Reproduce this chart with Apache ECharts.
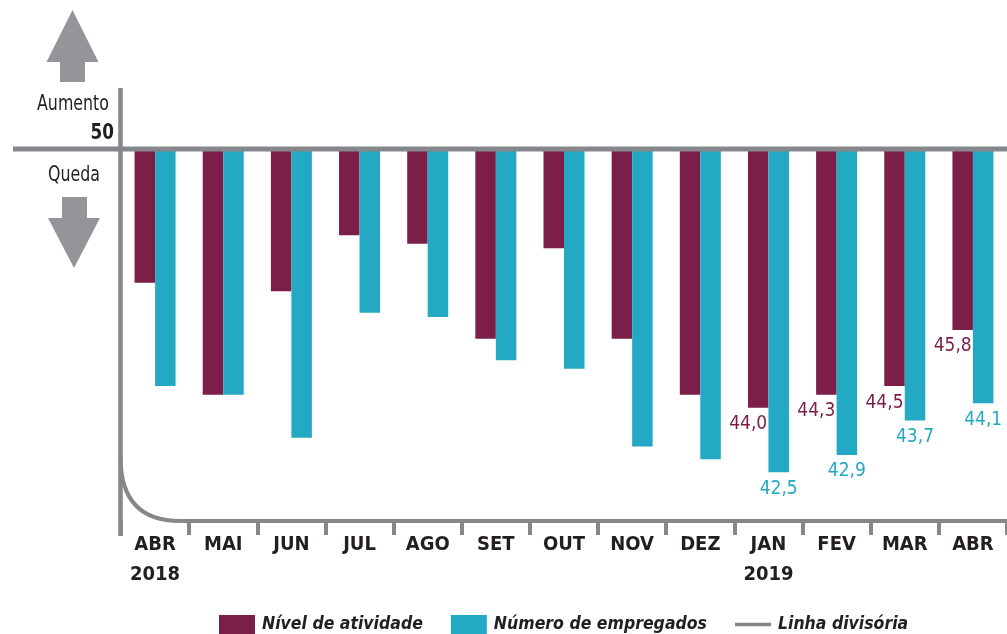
<!DOCTYPE html>
<html><head><meta charset="utf-8">
<script src="https://cdn.jsdelivr.net/npm/echarts@6/dist/echarts.min.js"></script>
<style>html,body{margin:0;padding:0;background:#fff}#c{width:1007px;height:634px}</style>
</head><body><div id="c"></div>
<script>
const categories = ['ABR','MAI','JUN','JUL','AGO','SET','OUT','NOV','DEZ','JAN','FEV','MAR','ABR'];
const years = ['2018','','','','','','','','','2019','','',''];
const nivel = [46.9,44.3,46.7,48.0,47.8,45.6,47.7,45.6,44.3,44.0,44.3,44.5,45.8];
const empregados = [44.5,44.3,43.3,46.2,46.1,45.1,44.9,43.1,42.8,42.5,42.9,43.7,44.1];
const baseline = 50;
const labeledFrom = 9;

const FONT = "'DejaVu Sans Condensed','Liberation Sans Narrow',sans-serif";
const GREY = '#86878a';
const ARROW = '#939598';
const C1 = '#7b1f48';
const C2 = '#23a9c4';
const INK = '#231f20';

const fmt = p => (p.value + baseline).toFixed(1).replace('.', ',');
const mk = arr => arr.map((v, i) => ({ value: +(v - baseline).toFixed(2), label: { show: i >= labeledFrom } }));

const chart = echarts.init(document.getElementById('c'), null, { renderer: 'canvas' });
chart.setOption({
  animation: false,
  backgroundColor: '#fff',
  grid: { left: 121, top: 149, width: 888, height: 372, containLabel: false },
  legend: {
    left: 219, top: 615, padding: 0, itemWidth: 36, itemHeight: 19, itemGap: 28,
    icon: 'rect',
    data: [
      { name: 'Nível de atividade' },
      { name: 'Número de empregados' },
      { name: 'Linha divisória', icon: 'path://M0,0H40V4H0Z' }
    ],
    textStyle: { fontSize: 17.5, fontWeight: 'bold', fontStyle: 'italic', color: INK, fontFamily: FONT, padding: [0,0,0,2] }
  },
  xAxis: {
    type: 'category', data: categories, position: 'bottom',
    axisLine: { show: false, onZero: false },
    axisTick: { show: true, interval: 0, length: 14, lineStyle: { color: GREY, width: 4 } },
    axisLabel: {
      interval: 0, margin: 9,
      formatter: (v, i) => years[i] ? v + '\n' + years[i] : v,
      fontSize: 20, fontWeight: 'bold', color: INK, fontFamily: FONT, lineHeight: 30
    }
  },
  yAxis: { type: 'value', min: -8.63, max: 0, show: false, splitLine: { show: false } },
  series: [
    { name: 'Nível de atividade', type: 'bar', data: mk(nivel), barWidth: 20.5, barGap: '0%',
      itemStyle: { color: C1 },
      label: { position: 'outside', distance: 7, offset: [-10, 0], formatter: fmt, color: C1, fontSize: 19, fontFamily: FONT } },
    { name: 'Número de empregados', type: 'bar', data: mk(empregados), barWidth: 20.5, barGap: '0%',
      itemStyle: { color: C2 },
      label: { position: 'outside', distance: 7, formatter: fmt, color: C2, fontSize: 19, fontFamily: FONT } },
    { name: 'Linha divisória', type: 'line', data: [], symbol: 'none', itemStyle: { color: GREY }, lineStyle: { color: GREY, width: 5 } }
  ],
  graphic: [
    { type: 'line', shape: { x1: 120.5, y1: 88, x2: 120.5, y2: 536 }, style: { stroke: GREY, lineWidth: 4.5 }, z: 10 },
    { type: 'line', shape: { x1: 13, y1: 149, x2: 1007, y2: 149 }, style: { stroke: GREY, lineWidth: 5 }, z: 10 },
    { type: 'bezierCurve', shape: { x1: 120.5, y1: 458, cpx1: 121, cpy1: 521, x2: 180, y2: 521 }, style: { stroke: GREY, lineWidth: 4, fill: null }, z: 10 },
    { type: 'line', shape: { x1: 179, y1: 521, x2: 1009, y2: 521 }, style: { stroke: GREY, lineWidth: 4 }, z: 10 },
    { type: 'polygon', shape: { points: [[72.5,10],[98.5,62],[85,62],[85,82],[60,82],[60,62],[46.5,62]] }, style: { fill: ARROW } },
    { type: 'polygon', shape: { points: [[62,197],[87,197],[87,218],[100,218],[74,268],[48,218],[62,218]] }, style: { fill: ARROW } },
    { type: 'text', x: 109, y: 104, scaleX: 0.8, style: { text: 'Aumento', x: 0, y: 0, align: 'right', verticalAlign: 'middle', fontSize: 22, fontFamily: FONT, fill: INK } },
    { type: 'text', x: 114, y: 133, scaleX: 0.85, style: { text: '50', x: 0, y: 0, align: 'right', verticalAlign: 'middle', fontSize: 22, fontWeight: 'bold', fontFamily: FONT, fill: INK } },
    { type: 'text', x: 74, y: 175, scaleX: 0.8, style: { text: 'Queda', x: 0, y: 0, align: 'center', verticalAlign: 'middle', fontSize: 22, fontFamily: FONT, fill: INK } }
  ]
});
</script>
</body></html>
